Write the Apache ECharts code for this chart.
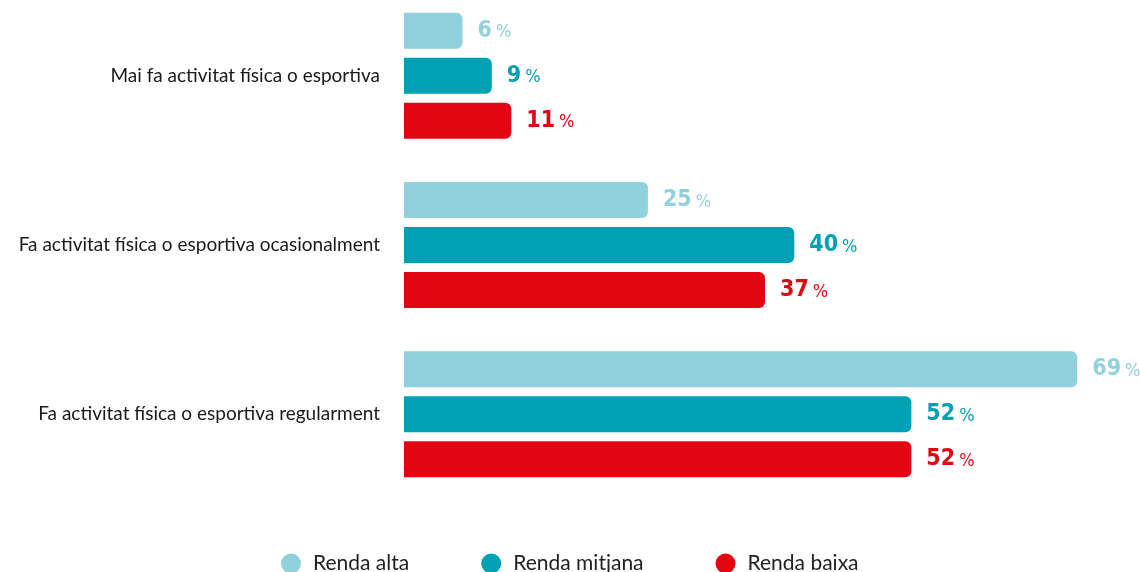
<!DOCTYPE html>
<html>
<head>
<meta charset="utf-8">
<script src="https://cdn.jsdelivr.net/npm/echarts@6/dist/echarts.min.js"></script>
<style>
  html, body { margin: 0; padding: 0; background: #ffffff; }
  #chart { width: 1140px; height: 572px; }
</style>
</head>
<body>
<div id="chart"></div>
<script>
// Physical activity by income level (%)
const categories = [
  'Mai fa activitat física o esportiva',
  'Fa activitat física o esportiva ocasionalment',
  'Fa activitat física o esportiva regularment'
];
const seriesNames = ['Renda alta', 'Renda mitjana', 'Renda baixa'];
const rendaAlta = [6, 25, 69];
const rendaMitjana = [9, 40, 52];
const rendaBaixa = [11, 37, 52];

const colors = ['#90d1dc', '#00a0b5', '#e20613'];
const values = [rendaAlta, rendaMitjana, rendaBaixa];
const numFont = '"DejaVu Sans Condensed", "DejaVu Sans", sans-serif';

function makeSeries(i) {
  const c = colors[i];
  return {
    name: seriesNames[i],
    type: 'bar',
    data: values[i],
    barWidth: 36,
    barGap: '25%',
    itemStyle: { color: c, borderRadius: [0, 6, 6, 0] },
    label: {
      show: true,
      position: 'right',
      distance: 15,
      formatter: p => '{n|' + p.value + '}{p|%}',
      rich: {
        n: { fontFamily: numFont, fontWeight: 'bold', fontSize: 23, color: c },
        p: { fontFamily: numFont, fontSize: 18, color: c, padding: [4, 0, 0, 4] }
      }
    },
    emphasis: { disabled: true }
  };
}

const chart = echarts.init(document.getElementById('chart'), null, { renderer: 'canvas' });
chart.setOption({
  animation: false,
  title: {
    text: '(%)',
    left: 587,
    textAlign: 'center',
    top: -27,
    textStyle: { fontFamily: 'Lato', fontWeight: 'bold', fontSize: 22, color: '#1a1a1a' }
  },
  grid: {
    left: 404, width: 683, top: -9, height: 508,
    containLabel: false,
    outerBoundsMode: 'none'
  },
  xAxis: {
    type: 'value',
    min: 0,
    max: 70,
    show: false
  },
  yAxis: {
    type: 'category',
    inverse: true,
    data: categories,
    axisLine: { show: false },
    axisTick: { show: false },
    axisLabel: {
      margin: 24,
      fontFamily: 'Lato',
      fontSize: 19,
      color: '#1a1a1a'
    }
  },
  legend: {
    bottom: -7,
    left: 276,
    icon: 'circle',
    itemWidth: 20,
    itemHeight: 20,
    itemGap: 72,
    data: seriesNames,
    textStyle: { fontFamily: 'Lato', fontSize: 21, color: '#222222', padding: [0, 0, 0, 7] }
  },
  series: [makeSeries(0), makeSeries(1), makeSeries(2)]
});
</script>
</body>
</html>
